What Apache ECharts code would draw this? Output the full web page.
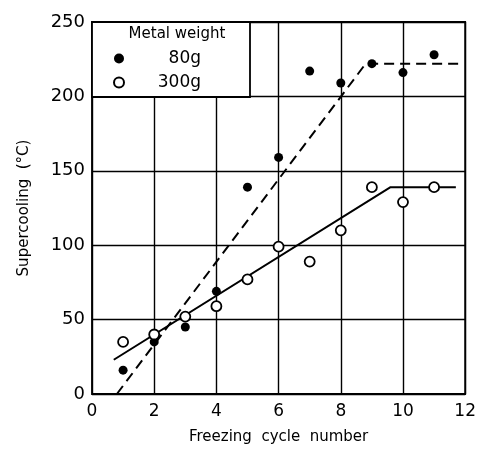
<!DOCTYPE html>
<html>
<head>
<meta charset="utf-8">
<script src="https://cdn.jsdelivr.net/npm/echarts@6/dist/echarts.min.js"></script>
<style>
  html, body { margin: 0; padding: 0; background: #fff; }
  #chart { width: 479px; height: 450px; }
</style>
</head>
<body>
<div id="chart"></div>
<script>
// measured points (cycle, supercooling degC)
var cycles = [1, 2, 3, 4, 5, 6, 7, 8, 9, 10, 11];
var weight80 = [16, 35, 45, 69, 139, 159, 217, 209, 222, 216, 228];
var weight300 = [35, 40, 52, 59, 77, 99, 89, 110, 139, 129, 139];
// fitted lines drawn in the figure
var fit80 = [[0.8, 0], [8.8, 222], [11.8, 222]];
var fit300 = [[0.7, 23], [9.6, 139], [11.7, 139]];
var xTicks = [0, 2, 4, 6, 8, 10, 12];
var yTicks = [0, 50, 100, 150, 200, 250];

var font = 'DejaVu Sans';

function pairs(ys) {
    return cycles.map(function (c, i) { return [c, ys[i]]; });
}

var chart = echarts.init(document.getElementById('chart'));
var option = {
    backgroundColor: '#fff',
    animation: false,
    textStyle: { fontFamily: font, color: '#000' },
    grid: {
        left: 92, right: 12, top: 22, bottom: 53,
        show: true, borderColor: '#000', borderWidth: 1.8
    },
    xAxis: {
        type: 'value',
        min: xTicks[0], max: xTicks[xTicks.length - 1], interval: 2,
        name: 'Freezing  cycle  number',
        nameLocation: 'middle', nameGap: 36,
        nameTextStyle: { fontSize: 15, color: '#000', fontFamily: font },
        axisLine: { show: false },
        axisTick: { show: false },
        axisLabel: { fontSize: 17, color: '#000', margin: 9, fontFamily: font },
        splitLine: { show: true, lineStyle: { color: '#000', width: 1.4 } }
    },
    yAxis: {
        type: 'value',
        min: yTicks[0], max: yTicks[yTicks.length - 1], interval: 50,
        name: 'Supercooling  (°C)',
        nameLocation: 'middle', nameGap: 60,
        nameTextStyle: { fontSize: 15, color: '#000', fontFamily: font },
        axisLine: { show: false },
        axisTick: { show: false },
        axisLabel: { fontSize: 18, color: '#000', margin: 7, fontFamily: font },
        splitLine: { show: true, lineStyle: { color: '#000', width: 1.4 } }
    },
    legend: {
        orient: 'vertical',
        left: 108, top: 45,
        itemGap: 7,
        itemWidth: 10, itemHeight: 10,
        z: 6,
        formatter: '{r|{name}}',
        textStyle: {
            color: '#000', fontFamily: font,
            rich: { r: { width: 72, align: 'right', fontSize: 17, color: '#000', fontFamily: font } }
        },
        data: ['80g', '300g']
    },
    graphic: [
        {
            type: 'rect', z: 5,
            shape: { x: 92, y: 22, width: 158, height: 75 },
            style: { fill: '#fff', stroke: '#000', lineWidth: 1.8 }
        },
        {
            type: 'text', z: 6,
            x: 177, y: 34,
            style: {
                text: 'Metal weight', fill: '#000',
                font: '15px "DejaVu Sans"',
                align: 'center', verticalAlign: 'middle'
            }
        }
    ],
    series: [
        {
            name: 'fit80', type: 'line', data: fit80,
            symbol: 'none', z: 2,
            lineStyle: { color: '#000', width: 2, type: [10, 6] }
        },
        {
            name: 'fit300', type: 'line', data: fit300,
            symbol: 'none', z: 2,
            lineStyle: { color: '#000', width: 2 }
        },
        {
            name: '80g', type: 'scatter', data: pairs(weight80),
            symbol: 'circle', symbolSize: 9, z: 3,
            itemStyle: { color: '#000', opacity: 1 }
        },
        {
            name: '300g', type: 'scatter', data: pairs(weight300),
            symbol: 'circle', symbolSize: 10, z: 4,
            itemStyle: { color: '#fff', borderColor: '#000', borderWidth: 1.8, opacity: 1 }
        }
    ]
};
chart.setOption(option);
</script>
</body>
</html>
